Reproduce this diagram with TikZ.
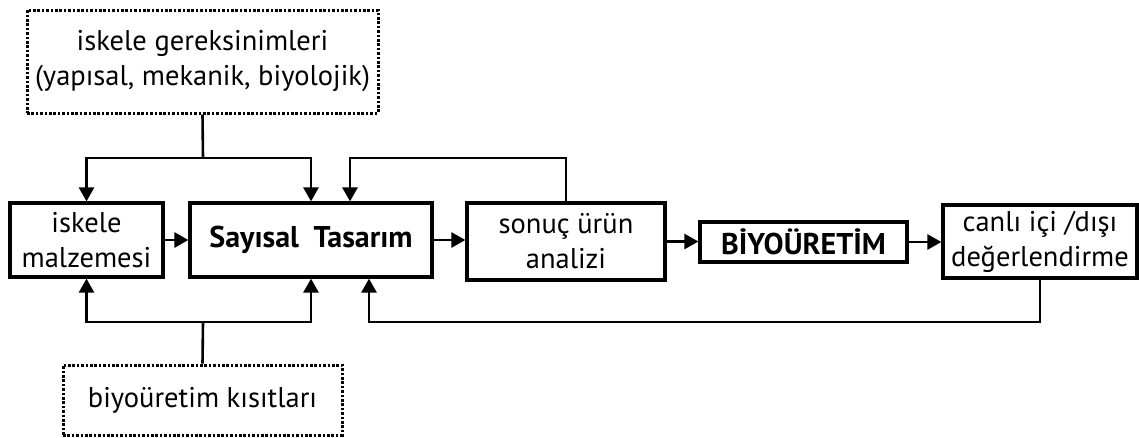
\documentclass[tikz,border=0pt]{standalone}
\usepackage{fontspec}
\setmainfont{PT Sans}
\usetikzlibrary{arrows.meta}
\begin{document}
\begin{tikzpicture}[x=1pt,y=-1pt,
  box/.style={draw,line width=3.2pt,align=center,inner sep=0pt,
    font=\fontsize{28.5}{35}\selectfont},
  dotbox/.style={draw,line width=3pt,dash pattern=on 2.6pt off 1.8pt,
    align=center,inner sep=0pt,font=\fontsize{28.5}{35}\selectfont},
  conn/.style={line width=2.6pt,-{Triangle[length=14pt,width=15pt]}}]
\useasboundingbox (0,0) rectangle (1139,437);
\node[dotbox,minimum width=351pt,minimum height=103pt] (gerek) at (202.5,61.5)
  {iskele gereksinimleri\\(yapısal, mekanik, biyolojik)};
\node[dotbox,minimum width=279pt,minimum height=70pt] (kisit) at (202.5,400)
  {biyoüretim kısıtları};
\node[box,minimum width=153pt,minimum height=74pt] (malz) at (86.5,240)
  {iskele\\malzemesi};
\node[box,minimum width=242pt,minimum height=74pt] (sayisal) at (311,240)
  {\fontsize{30}{35}\selectfont\bfseries Sayısal\hspace{7pt} Tasarım};
\node[box,minimum width=198pt,minimum height=77pt] (analiz) at (566,241.5)
  {sonuç ürün\\analizi};
\node[box,minimum width=207pt,minimum height=40pt] (biyo) at (803.5,242)
  {\fontsize{30}{35}\selectfont\bfseries BİYOÜRETİM};
\node[box,minimum width=194pt,minimum height=73pt] (deger) at (1040,241.5)
  {canlı içi /dışı\\değerlendirme};
% ust ve alt girdiler
\coordinate (tj) at (203,158);
\coordinate (bj) at (203,322);
\draw[line width=2.6pt] (gerek.south) -- (tj);
\draw[conn] (tj) -| (malz.north);
\draw[conn] (tj) -| (sayisal.north);
\draw[line width=2.6pt] (kisit.north) -- (bj);
\draw[conn] (bj) -| (malz.south);
\draw[conn] (bj) -| (sayisal.south);
% ana akis
\draw[conn] (malz.east) -- (sayisal.west);
\draw[conn] (sayisal.east) -- (sayisal.east -| analiz.west);
\draw[conn] (analiz.east) -- (analiz.east -| biyo.west);
\draw[conn] (biyo.east) -- (biyo.east -| deger.west);
% geri beslemeler
\coordinate (fb1) at (350,158);
\coordinate (fb2) at (369,322);
\draw[conn] (analiz.north) |- (fb1) -- (fb1 |- sayisal.north);
\draw[conn] (deger.south) |- (fb2) -- (fb2 |- sayisal.south);
\end{tikzpicture}
\end{document}
